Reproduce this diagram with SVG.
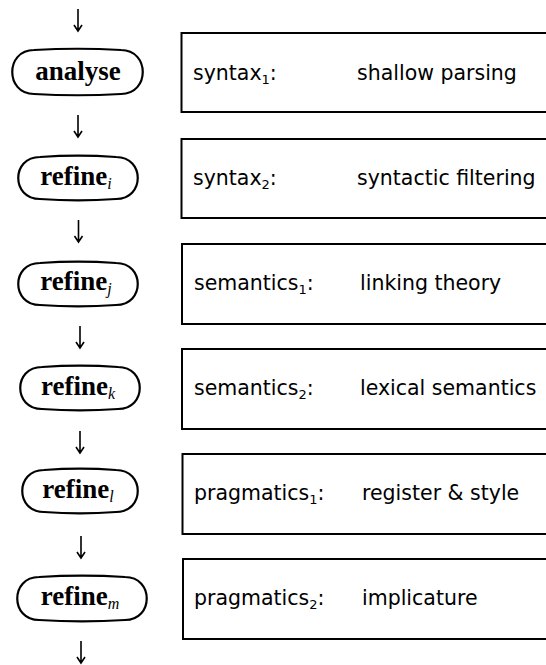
<svg xmlns="http://www.w3.org/2000/svg" width="546" height="665" viewBox="0 0 546 665">
  <defs>
    <style>
      .stage { fill: #fff; stroke: #000; stroke-width: 2.2; }
      .panel { fill: #fff; stroke: #000; stroke-width: 2; }
      .op { font-family: "Liberation Serif", "DejaVu Serif", serif; font-weight: bold; font-size: 27px; fill: #000; text-anchor: middle; }
      .op .sub { font-style: italic; font-weight: normal; font-size: 16px; }
      .lbl { font-family: "DejaVu Sans", "Liberation Sans", sans-serif; font-size: 20.5px; fill: #000; }
      .lbl .sub { font-size: 13px; }
      .flow { fill: none; stroke: #000; stroke-width: 1.6; }
    </style>
  </defs>
  <rect width="546" height="665" fill="#fff"/>

  <!-- processing stages: rounded capsules with slightly bulging edges -->
  <g id="analyse">
    <path class="stage" d="M34 50C60 48.5 95 48.5 121 50C150 50 150 94 121 94C95 95.5 60 95.5 34 94C5 94 5 50 34 50Z"/>
    <text class="op" x="78" y="80">analyse</text>
  </g>
  <g id="refine-i">
    <path class="stage" d="M40 157C62 155.5 94 155.5 116 157C145 157 145 199 116 199C94 200.5 62 200.5 40 199C11 199 11 157 40 157Z"/>
    <text class="op" x="76" y="185">refine<tspan class="sub" dy="4">i</tspan></text>
  </g>
  <g id="refine-j">
    <path class="stage" d="M40 263C62 261.5 94 261.5 116 263C145 263 145 305 116 305C94 306.5 62 306.5 40 305C11 305 11 263 40 263Z"/>
    <text class="op" x="76" y="290">refine<tspan class="sub" dy="4">j</tspan></text>
  </g>
  <g id="refine-k">
    <path class="stage" d="M42 367C64 365.5 96 365.5 118 367C147 367 147 409 118 409C96 410.5 64 410.5 42 409C13 409 13 367 42 367Z"/>
    <text class="op" x="78" y="395">refine<tspan class="sub" dy="4">k</tspan></text>
  </g>
  <g id="refine-l">
    <path class="stage" d="M44 470C65 468.5 95 468.5 116 470C145 470 145 512 116 512C95 513.5 65 513.5 44 512C15 512 15 470 44 470Z"/>
    <text class="op" x="78" y="498">refine<tspan class="sub" dy="4">l</tspan></text>
  </g>
  <g id="refine-m">
    <path class="stage" d="M39 577C63 575.5 101 575.5 125 577C154 577 154 620 125 620C101 621.5 63 621.5 39 620C10 620 10 577 39 577Z"/>
    <text class="op" x="80" y="605">refine<tspan class="sub" dy="4">m</tspan></text>
  </g>

  <!-- level panels (open to the right) -->
  <g id="syntax1">
    <rect class="panel" x="181.5" y="33" width="380" height="79"/>
    <text class="lbl" x="193" y="80">syntax<tspan class="sub" dy="4">1</tspan><tspan dy="-4">:</tspan></text>
    <text class="lbl" x="357" y="80">shallow parsing</text>
  </g>
  <g id="syntax2">
    <rect class="panel" x="181.5" y="139" width="380" height="79"/>
    <text class="lbl" x="193" y="185">syntax<tspan class="sub" dy="4">2</tspan><tspan dy="-4">:</tspan></text>
    <text class="lbl" x="357" y="185">syntactic filtering</text>
  </g>
  <g id="semantics1">
    <rect class="panel" x="182" y="244" width="380" height="80"/>
    <text class="lbl" x="194" y="290">semantics<tspan class="sub" dy="4">1</tspan><tspan dy="-4">:</tspan></text>
    <text class="lbl" x="360" y="290">linking theory</text>
  </g>
  <g id="semantics2">
    <rect class="panel" x="182" y="349" width="380" height="80"/>
    <text class="lbl" x="194" y="395">semantics<tspan class="sub" dy="4">2</tspan><tspan dy="-4">:</tspan></text>
    <text class="lbl" x="360" y="395">lexical semantics</text>
  </g>
  <g id="pragmatics1">
    <rect class="panel" x="182.5" y="454" width="380" height="80"/>
    <text class="lbl" x="194" y="500">pragmatics<tspan class="sub" dy="4">1</tspan><tspan dy="-4">:</tspan></text>
    <text class="lbl" x="362" y="500">register &amp; style</text>
  </g>
  <g id="pragmatics2">
    <rect class="panel" x="183" y="559" width="380" height="80"/>
    <text class="lbl" x="194" y="605">pragmatics<tspan class="sub" dy="4">2</tspan><tspan dy="-4">:</tspan></text>
    <text class="lbl" x="362" y="605">implicature</text>
  </g>

  <!-- downward flow arrows -->
  <g id="connectors" class="flow">
    <path d="M78 9V31M74 25L78 31L82 25"/>
    <path d="M78 115V137M74 131L78 137L82 131"/>
    <path d="M78.5 220V242M74.5 236L78.5 242L82.5 236"/>
    <path d="M80 326V348M76 342L80 348L84 342"/>
    <path d="M80 431V453M76 447L80 453L84 447"/>
    <path d="M81 536V558M77 552L81 558L85 552"/>
    <path d="M81 641V663M77 657L81 663L85 657"/>
  </g>
</svg>
